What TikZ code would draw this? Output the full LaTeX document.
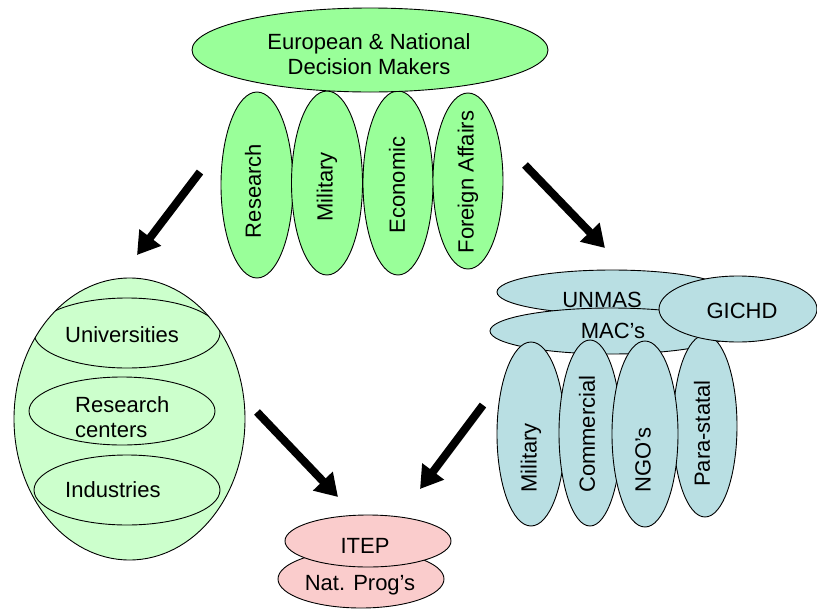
\documentclass[tikz,border=0pt]{standalone}
\usepackage{fontspec}
\setmainfont{Liberation Sans}
\usepackage{graphicx}
\usetikzlibrary{shapes.geometric,arrows.meta}
\definecolor{topgreen}{RGB}{153,255,153}
\definecolor{palegreen}{RGB}{204,255,204}
\definecolor{paleblue}{RGB}{185,223,227}
\definecolor{palepink}{RGB}{250,204,204}
\begin{document}
\begin{tikzpicture}[x=1pt,y=-1pt,
  oval/.style={ellipse, draw=black, line width=0.9pt, inner sep=0pt},
  lbl/.style={font=\fontsize{22}{25}\selectfont, inner sep=0pt, text=black},
  bigarrow/.style={line width=8pt, -{Triangle[length=22pt,width=26pt]}}]
\useasboundingbox (0,0) rectangle (817,611);

% top cluster
\node[oval, fill=topgreen, minimum width=72pt, minimum height=186pt] (vres) at (257,185) {};
\node[oval, fill=topgreen, minimum width=71pt, minimum height=184pt] (vmil) at (327,183) {};
\node[oval, fill=topgreen, minimum width=70pt, minimum height=184pt] (veco) at (398,183) {};
\node[oval, fill=topgreen, minimum width=70pt, minimum height=176pt] (vfor) at (468,181) {};
\node[oval, fill=topgreen, minimum width=356pt, minimum height=84pt] (dm) at (370,50) {};
\node[lbl, align=center] (dmt) at (369,54.5) {European \& National\\Decision Makers};
\node[lbl] (tres) at (253,191) {\rotatebox{90}{Research}};
\node[lbl] (tmil) at (327,187) {\rotatebox{90}{Military}};
\node[lbl] (teco) at (397,185) {\rotatebox{90}{Economic}};
\node[lbl] (tfor) at (468,182) {\rotatebox{90}{Foreign Affairs}};

% left cluster
\node[oval, fill=palegreen, minimum width=231pt, minimum height=282pt] (lbig) at (129.5,419) {};
\begin{scope}
  \clip (129.5,419) ellipse (115.5 and 141);
  \node[oval, minimum width=186pt, minimum height=70pt] (luni) at (127,333) {};
  \node[oval, minimum width=186pt, minimum height=68pt] (lrc) at (122,411) {};
  \node[oval, minimum width=186pt, minimum height=70pt] (lind) at (127,490) {};
\end{scope}
\node[lbl, anchor=base west] (tuni) at (65,342) {Universities};
\node[lbl, align=left, anchor=west] (trc) at (75,417) {Research\\centers};
\node[lbl, anchor=base west] (tind) at (65,497) {Industries};

% right cluster
\node[oval, fill=paleblue, minimum width=230pt, minimum height=44pt] (unmas) at (612,292) {};
\node[oval, fill=paleblue, minimum width=242pt, minimum height=46pt] (macs) at (611,331) {};
\node[oval, fill=paleblue, minimum width=68pt, minimum height=184pt] (rmil) at (531,434) {};
\node[oval, fill=paleblue, minimum width=64pt, minimum height=182pt] (rpara) at (705,426) {};
\node[oval, fill=paleblue, minimum width=62pt, minimum height=186pt] (rcom) at (590,433) {};
\node[oval, fill=paleblue, minimum width=66pt, minimum height=186pt] (rngo) at (645,434) {};
\node[oval, fill=paleblue, minimum width=158pt, minimum height=66pt] (gichd) at (738,309) {};
\node[lbl, anchor=base] (tunmas) at (602,307) {UNMAS};
\node[lbl, anchor=base] (tmacs) at (613,338) {MAC’s};
\node[lbl, anchor=base] (tgichd) at (742,318) {GICHD};
\node[lbl, anchor=south] (trmil) at (531,493) {\rotatebox{90}{Military}};
\node[lbl, anchor=south] (trcom) at (587,493) {\rotatebox{90}{Commercial}};
\node[lbl, anchor=south] (trngo) at (643,493) {\rotatebox{90}{NGO’s}};
\node[lbl, anchor=south] (trpara) at (702,487) {\rotatebox{90}{Para-statal}};

% bottom
\node[oval, fill=palepink, minimum width=166pt, minimum height=58pt] (natp) at (361,579) {};
\node[oval, fill=palepink, minimum width=166pt, minimum height=52pt] (itep) at (368,541) {};
\node[lbl, anchor=base] (titep) at (365,553) {ITEP};
\node[lbl, anchor=base] (tnatp) at (360,590) {Nat. Prog’s};

% arrows
\coordinate (a1s) at (200,172); \coordinate (a1e) at (137,255);
\coordinate (a2s) at (525,165); \coordinate (a2e) at (605,248);
\coordinate (a3s) at (257,412); \coordinate (a3e) at (338,497);
\coordinate (a4s) at (483,405); \coordinate (a4e) at (420,489);
\draw[bigarrow] (a1s) -- (a1e);
\draw[bigarrow] (a2s) -- (a2e);
\draw[bigarrow] (a3s) -- (a3e);
\draw[bigarrow] (a4s) -- (a4e);
\end{tikzpicture}
\end{document}
